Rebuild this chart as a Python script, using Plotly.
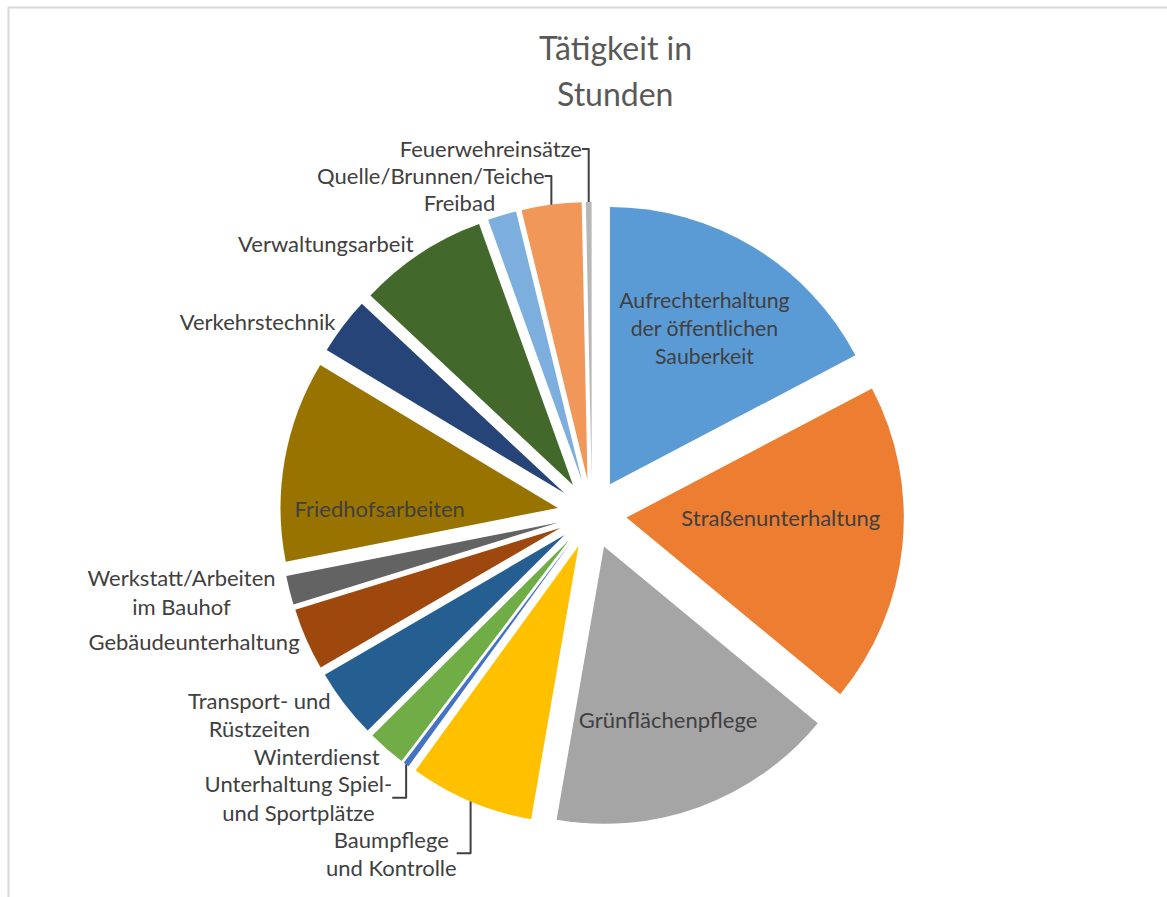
import plotly.graph_objects as go

labels = ["Aufrechterhaltung der öffentlichen Sauberkeit", "Straßenunterhaltung", "Grünflächenpflege",
          "Baumpflege und Kontrolle", "Unterhaltung Spiel- und Sportplätze", "Winterdienst",
          "Transport- und Rüstzeiten", "Gebäudeunterhaltung", "Werkstatt/Arbeiten im Bauhof",
          "Friedhofsarbeiten", "Verkehrstechnik", "Verwaltungsarbeit", "Freibad",
          "Quelle/Brunnen/Teiche", "Feuerwehreinsätze"]
display = ["Aufrechterhaltung<br>der öffentlichen<br>Sauberkeit", "Straßenunterhaltung", "Grünflächenpflege",
           "Baumpflege<br>und Kontrolle", "Unterhaltung Spiel-<br>und Sportplätze", "Winterdienst",
           "Transport- und<br>Rüstzeiten", "Gebäudeunterhaltung", "Werkstatt/Arbeiten<br>im Bauhof",
           "Friedhofsarbeiten", "Verkehrstechnik", "Verwaltungsarbeit", "Freibad",
           "Quelle/Brunnen/Teiche", "Feuerwehreinsätze"]
hours = [1860, 2010, 1800, 780, 36, 240, 435, 390, 180, 1260, 360, 810, 180, 375, 36]
colors = ["#5B9BD5", "#ED7D31", "#A5A5A5", "#FFC000", "#4472C4", "#70AD47", "#255E91", "#9E480E",
          "#636363", "#997300", "#264478", "#43682B", "#7CAFDD", "#F1975A", "#B7B7B7"]
positions = ["inside", "inside", "inside", "outside", "outside", "outside", "outside", "outside",
             "outside", "inside", "outside", "outside", "outside", "outside", "outside"]
title_lines = ["Tätigkeit in", "Stunden"]

W, H = 1167, 897
cx, cy, half = 592, 514, 312
FONT = "Lato"
fig = go.Figure(go.Pie(
    labels=labels, values=hours, text=display, textinfo="text", textposition=positions,
    sort=False, direction="clockwise", rotation=0, pull=0.125, automargin=False,
    marker=dict(colors=colors, line=dict(width=0)),
    insidetextorientation="horizontal",
    textfont=dict(family=FONT, size=22, color="#404040"),
    outsidetextfont=dict(family=FONT, size=22, color="#404040"),
    domain=dict(x=[(cx - half) / W, (cx + half) / W], y=[(H - cy - half) / H, (H - cy + half) / H]),
    hoverinfo="label+value+percent",
))
annotations = [dict(text=t, xref="paper", yref="paper", x=615 / W, y=1 - yc / H, xanchor="center",
                    yanchor="middle", showarrow=False, font=dict(family=FONT, size=32, color="#595959"))
               for t, yc in zip(title_lines, [48, 93])]
fig.update_layout(
    width=W, height=H, margin=dict(l=0, r=0, t=0, b=0, autoexpand=False),
    paper_bgcolor="white", showlegend=False, annotations=annotations,
    shapes=[dict(type="rect", xref="paper", yref="paper", x0=8.5 / W, x1=1.2, y0=-0.2, y1=1 - 7.5 / H,
                 line=dict(color="#D9D9D9", width=2), fillcolor="rgba(0,0,0,0)")],
)
fig.write_html("out.html")
